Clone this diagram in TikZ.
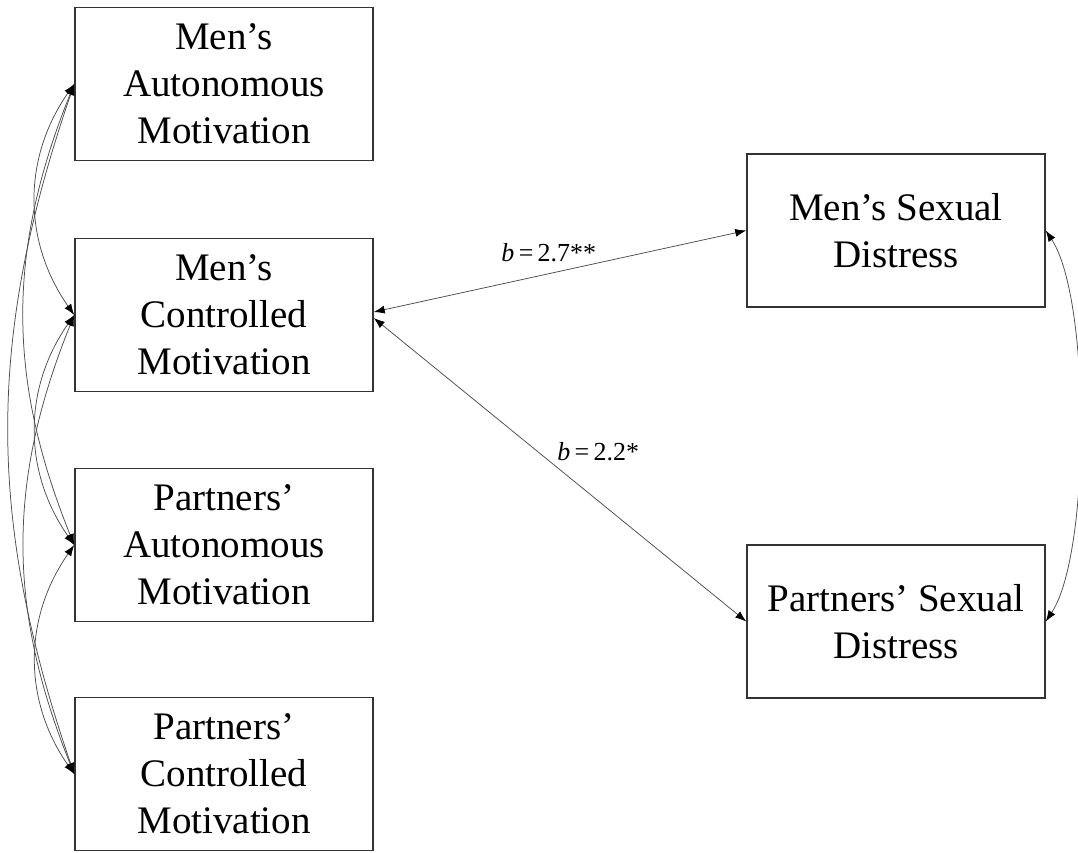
\documentclass[tikz,border=0pt]{standalone}
\usepackage{fontspec}
\setmainfont{Liberation Serif}
\usetikzlibrary{arrows.meta}
\begin{document}
\begin{tikzpicture}[x=1pt,y=1pt,
  box/.style={draw=black!80, line width=1.5pt, minimum width=298pt, minimum height=153pt,
    align=center, inner sep=0pt, font=\fontsize{39}{47}\selectfont,
    execute at begin node={\rule{0pt}{32pt}}},
  tip/.style={Latex[length=11pt,width=8pt,color=black]},
  conn/.style={draw=black!70, line width=0.75pt, {Latex[length=11pt,width=8pt,color=black]}-{Latex[length=11pt,width=8pt,color=black]}},
  lab/.style={font=\fontsize{26}{30}\selectfont, inner sep=0pt}]
\useasboundingbox (0,0) rectangle (1078,-852);
\node[box] (ma) at (224,-84) {Men’s\\Autonomous\\Motivation};
\node[box] (mc) at (224,-315) {Men’s\\Controlled\\Motivation};
\node[box] (pa) at (224,-545) {Partners’\\Autonomous\\Motivation};
\node[box] (pc) at (224,-774) {Partners’\\Controlled\\Motivation};
\node[box] (md) at (896,-230.5) {Men’s Sexual\\Distress};
\node[box] (pd) at (896,-621.5) {Partners’ Sexual\\Distress};
% paths
\draw[conn] ([yshift=3pt]mc.east) -- (md.west)
  node[lab, pos=0.47, above=11pt] {\textit{b}\,=\,2.7**};
\draw[conn] ([yshift=-3pt]mc.east) -- (pd.west)
  node[lab, pos=0.5, anchor=south west, xshift=-3pt, yshift=9pt] {\textit{b}\,=\,2.2*};
% right correlation
\draw[conn] (md.east) .. controls +(45,-68) and +(45,68) .. (pd.east);
% left correlations
\draw[conn] (ma.west) to[out=235,in=125] (mc.west);
\draw[conn] (mc.west) to[out=235,in=125] (pa.west);
\draw[conn] (pa.west) to[out=235,in=125] (pc.west);
\draw[conn] (ma.west) to[out=248,in=112] (pa.west);
\draw[conn] (mc.west) to[out=248,in=112] (pc.west);
\draw[conn] (ma.west) to[out=251,in=109] (pc.west);
\end{tikzpicture}
\end{document}
